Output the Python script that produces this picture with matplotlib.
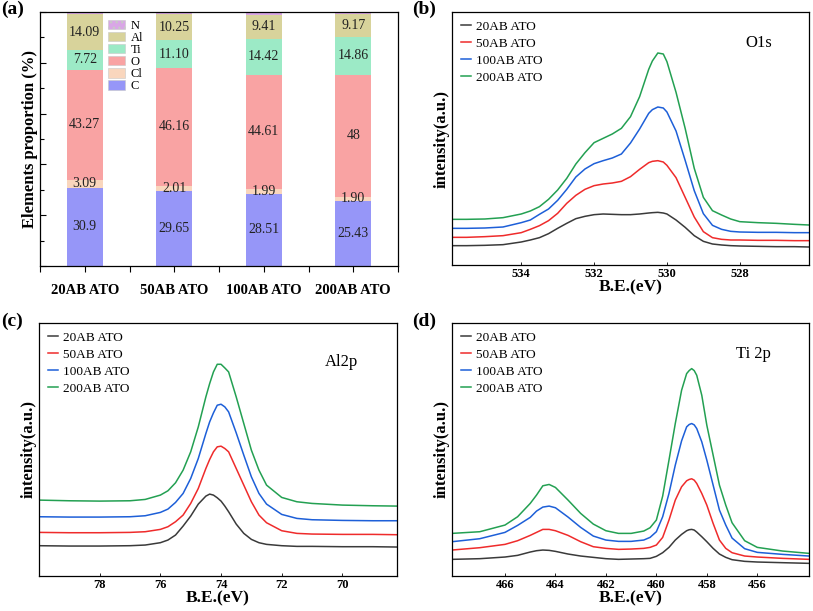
import numpy as np
import matplotlib
matplotlib.use("Agg")
import matplotlib.pyplot as plt
from matplotlib.patches import Patch
from matplotlib.lines import Line2D

plt.rcParams['font.family'] = ['Liberation Serif', 'DejaVu Serif']
plt.rcParams['hatch.color'] = '#b070c8'

# ---- (a) element proportions ----
samples = ['20AB ATO', '50AB ATO', '100AB ATO', '200AB ATO']
elem_C = [30.9, 29.65, 28.51, 25.43]
elem_Cl = [3.09, 2.01, 1.99, 1.90]
elem_O = [43.27, 46.16, 44.61, 48]
elem_Ti = [7.72, 11.10, 14.42, 14.86]
elem_Al = [14.09, 10.25, 9.41, 9.17]
elem_N = [0.93, 0.83, 1.06, 0.64]
lab_C = ['30.9', '29.65', '28.51', '25.43']
lab_Cl = ['3.09', '2.01', '1.99', '1.90']
lab_O = ['43.27', '46.16', '44.61', '48']
lab_Ti = ['7.72', '11.10', '14.42', '14.86']
lab_Al = ['14.09', '10.25', '9.41', '9.17']

# ---- (b) O1s ----
be_o = [535.9, 535.5, 535, 534.5, 534, 533.75, 533.5, 533.25, 533, 532.75, 532.5,
        532.25, 532, 531.75, 531.5, 531.25, 531, 530.75, 530.5, 530.4, 530.25, 530.1,
        530, 529.75, 529.5, 529.25, 529, 528.75, 528.5, 528.25, 528, 527.5, 527,
        526.5, 526.1]
o_20 = [58, 58, 59, 61, 69, 75, 82, 94, 110, 125, 139,
        146, 151, 153, 152, 151, 151, 153, 156, 157, 158, 156,
        153, 135, 113, 88, 71, 63, 60, 58, 57, 56, 55,
        55, 54]
o_50 = [83, 83, 85, 88, 97, 107, 118, 133, 155, 185, 209,
        227, 238, 243, 246, 251, 265, 287, 307, 311, 313, 309,
        299, 262, 203, 144, 100, 82, 77, 75, 75, 74, 74,
        73, 73]
o_100 = [110, 110, 111, 114, 127, 135, 152, 168, 194, 227, 264,
         288, 304, 313, 321, 333, 366, 408, 455, 466, 474, 471,
         459, 402, 314, 223, 154, 119, 107, 101, 99, 98, 98,
         97, 97]
o_200 = [137, 137, 138, 142, 153, 162, 175, 197, 225, 260, 303,
         337, 367, 380, 393, 410, 445, 505, 587, 612, 636, 633,
         610, 518, 410, 290, 203, 163, 150, 138, 130, 127, 125,
         122, 120]

# ---- (c) Al2p ----
be_al = [80, 79, 78, 77, 76.5, 76, 75.75, 75.5, 75.25, 75, 74.75, 74.5, 74.375,
         74.25, 74.125, 74, 73.875, 73.75, 73.5, 73.25, 73, 72.75, 72.5, 72, 71.5,
         71, 70, 69, 68.2]
al_20 = [91, 90, 90, 91, 93, 100, 108, 123, 150, 180, 216, 240, 246,
         243, 235, 225, 210, 193, 156, 128, 110, 100, 95, 91, 89,
         89, 88, 88, 87]
al_50 = [131, 130, 130, 131, 133, 140, 148, 163, 183, 218, 263, 323, 350,
         373, 388, 390, 383, 373, 323, 273, 223, 183, 160, 136, 128,
         126, 125, 125, 124]
al_100 = [178, 177, 177, 178, 181, 191, 201, 221, 248, 293, 353, 428, 463,
          490, 513, 516, 508, 493, 430, 363, 298, 248, 216, 185, 173,
          169, 167, 166, 166]
al_200 = [228, 226, 225, 226, 230, 243, 256, 280, 318, 373, 448, 538, 578,
          613, 636, 636, 625, 613, 538, 458, 378, 318, 273, 236, 223,
          218, 213, 211, 210]

# ---- (d) Ti 2p ----
be_ti = [468.1, 467, 466, 465.5, 465, 464.75, 464.5, 464.25, 464, 463.5, 463,
         462.5, 462, 461.5, 461, 460.5, 460.25, 460, 459.75, 459.5, 459.25, 459,
         458.8, 458.7, 458.6, 458.5, 458.4, 458.2, 458, 457.75, 457.5, 457.25,
         457, 456.5, 456, 455, 453.95]
ti_20 = [50, 52, 57, 62, 72, 76, 78, 77, 74, 66, 60,
         56, 52, 50, 51, 52, 53, 59, 70, 86, 108, 125,
         136, 139, 140, 138, 132, 118, 103, 83, 66, 56,
         49, 44, 42, 40, 38]
ti_50 = [78, 85, 95, 106, 122, 131, 140, 140, 136, 122, 103,
         88, 83, 80, 81, 83, 86, 93, 116, 168, 228, 268,
         286, 290, 292, 288, 278, 248, 213, 158, 108, 83,
         70, 60, 57, 53, 50]
ti_100 = [103, 112, 131, 152, 176, 195, 207, 210, 205, 177, 146,
          120, 108, 104, 104, 108, 116, 133, 178, 248, 333, 406,
          448, 455, 458, 454, 443, 403, 348, 273, 198, 153,
          114, 82, 71, 65, 60]
ti_200 = [128, 133, 153, 178, 218, 243, 271, 275, 266, 228, 188,
          156, 136, 128, 128, 135, 145, 168, 240, 348, 458, 558,
          608, 617, 623, 617, 603, 543, 453, 363, 273, 213,
          160, 106, 86, 75, 68]

W, H = 813, 611
fig = plt.figure(figsize=(W / 100, H / 100), dpi=100)


def box(l, t, r, b):
    return [l / W, 1 - b / H, (r - l) / W, (b - t) / H]


# ---------------- panel a ----------------
ax = fig.add_axes(box(40, 12, 398, 266))
x = np.arange(len(samples))
stack = [('C', elem_C, '#9696f8', lab_C), ('Cl', elem_Cl, '#f9d6bd', lab_Cl),
         ('O', elem_O, '#f9a3a3', lab_O), ('Ti', elem_Ti, '#9ceac6', lab_Ti),
         ('Al', elem_Al, '#d8d39b', lab_Al), ('N', elem_N, '#d9a6e6', None)]
bottom = np.zeros(len(samples))
handles = []
for name, vals, col, labs in stack:
    vals = np.array(vals)
    hatch = '...' if name == 'N' else None
    ax.bar(x, vals, 0.4, bottom=bottom, color=col, edgecolor='none', hatch=hatch)
    if labs is not None:
        for i in range(len(samples)):
            ax.text(x[i], bottom[i] + vals[i] / 2, labs[i], ha='center', va='center',
                    fontsize=10, color='#222222')
    handles.append(Patch(facecolor=col, edgecolor='#c8c8c8', lw=0.4, hatch=hatch, label=name))
    bottom = bottom + vals
ax.set_xlim(-0.5, 3.5)
ax.set_ylim(0, 100)
ax.set_xticks(x)
ax.set_xticklabels(samples, fontsize=10.5, fontweight='bold')
ax.set_xticks(np.arange(-0.5, 4, 1), minor=True)
ax.tick_params(axis='x', which='both', direction='out', length=4, width=0.8, pad=9)
ax.set_yticks(np.arange(0, 101, 20))
ax.set_yticks(np.arange(10, 100, 20), minor=True)
ax.tick_params(axis='y', which='major', direction='in', length=4, width=0.8, labelleft=False)
ax.tick_params(axis='y', which='minor', direction='in', length=3, width=0.8)
ax.set_ylabel('Elements proportion (%)', fontsize=12, fontweight='bold', labelpad=-2)
ax.legend(handles=handles[::-1], loc='upper left', bbox_to_anchor=(0.17, 1.0),
          frameon=False, fontsize=9, labelspacing=0.0, handlelength=1.3,
          handleheight=0.8, handletextpad=0.5, borderaxespad=0.2)
for s in ax.spines.values():
    s.set_linewidth(0.9)

# ---------------- spectra ----------------
names = ['20AB ATO', '50AB ATO', '100AB ATO', '200AB ATO']
colors = ['#3a3a3a', '#ef2b2b', '#1d5fd8', '#23a052']


def spectrum(rect, be, series, xlim, ylim, xt, tag, tagpos):
    a = fig.add_axes(rect)
    for ys, c, n in zip(series, colors, names):
        a.plot(be, ys, color=c, lw=1.1, label=n)
    a.set_xlim(*xlim)
    a.set_ylim(*ylim)
    a.set_xticks(xt)
    a.set_xticklabels([str(v) for v in xt], fontsize=9, fontweight='bold')
    a.set_yticks([])
    a.tick_params(axis='x', direction='in', length=2, width=0.6, pad=2)
    a.set_xlabel('B.E.(eV)', fontsize=12.5, fontweight='bold', labelpad=0)
    a.set_ylabel('intensity(a.u.)', fontsize=12, fontweight='bold', labelpad=1.5)
    hl = [Line2D([], [], color=c, lw=1.1) for c in colors]
    a.legend(hl, names, loc='upper left', frameon=False, fontsize=9.5,
             labelspacing=0.36, handlelength=0.8, handletextpad=0.4,
             borderaxespad=0.45, borderpad=0.2)
    a.text(tagpos[0], tagpos[1], tag, transform=a.transAxes, ha='center', va='center',
           fontsize=12)
    for s in a.spines.values():
        s.set_linewidth(0.9)
    return a


spectrum(box(452, 12, 809, 265), be_o, [o_20, o_50, o_100, o_200],
         (535.9, 526.1), (0, 759), [534, 532, 530, 528], 'O1s', (0.86, 0.877))
spectrum(box(39, 323, 397, 576), be_al, [al_20, al_50, al_100, al_200],
         (80, 68.2), (0, 760), [78, 76, 74, 72, 70], 'Al2p', (0.844, 0.846))
spectrum(box(452, 323, 809, 576), be_ti, [ti_20, ti_50, ti_100, ti_200],
         (468.1, 453.95), (0, 760), [466, 464, 462, 460, 458, 456], 'Ti 2p', (0.843, 0.877))

for lab, px, py in [('(a)', 1, 1), ('(b)', 412, 1), ('(c)', 1, 313), ('(d)', 412, 313)]:
    fig.text(px / W, 1 - py / H, lab, ha='left', va='top', fontsize=14, fontweight='bold')

fig.savefig('out.png', dpi=100)
